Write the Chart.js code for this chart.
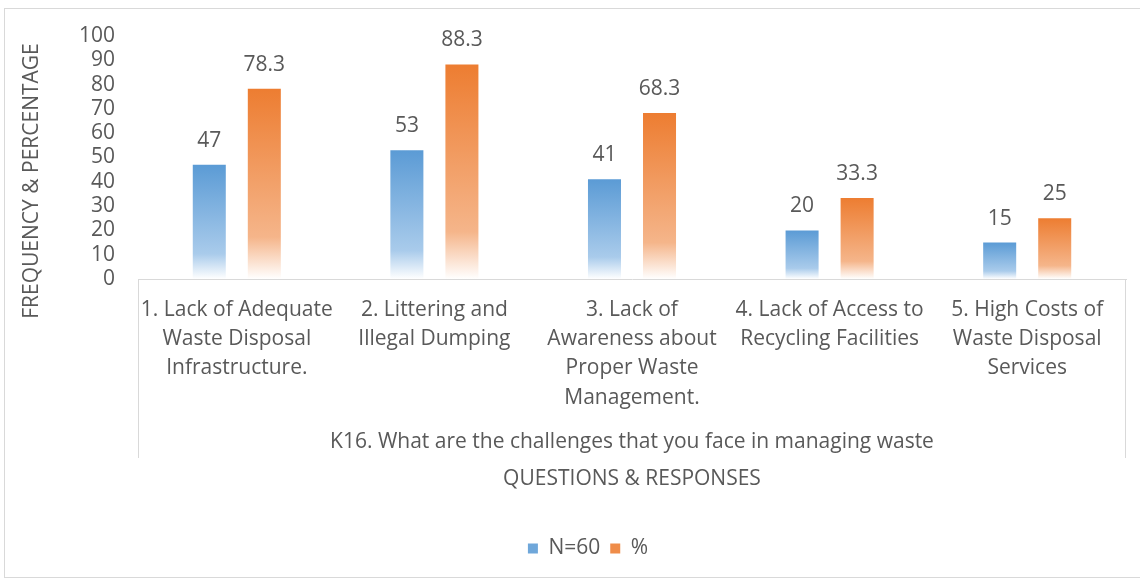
<!DOCTYPE html>
<html lang="en">
<head>
    <meta charset="UTF-8">
    <title>K16 Challenges</title>
    <script src="https://cdn.jsdelivr.net/npm/chart.js"></script>
    <style>
        html, body { margin: 0; padding: 0; background: #fff; }
        .chart-container { width: 1140px; height: 582px; position: relative; }
    </style>
</head>
<body>
    <div class="chart-container">
        <canvas id="wasteChart"></canvas>
    </div>
    <script>
        // data
        const categories = [
            ['1. Lack of Adequate', 'Waste Disposal', 'Infrastructure.'],
            ['2. Littering and', 'Illegal Dumping'],
            ['3. Lack of', 'Awareness about', 'Proper Waste', 'Management.'],
            ['4. Lack of Access to', 'Recycling Facilities'],
            ['5. High Costs of', 'Waste Disposal', 'Services']
        ];
        const frequency = [47, 53, 41, 20, 15];
        const percentage = [78.3, 88.3, 68.3, 33.3, 25];
        const seriesNames = ['N=60', '%'];
        const groupLabel = 'K16. What are the challenges that you face in managing waste';
        const xTitle = 'QUESTIONS & RESPONSES';
        const yTitle = 'FREQUENCY & PERCENTAGE';

        const FONT = '"Open Sans"';
        const TEXT = '#595959';
        const LINE = '#d9d9d9';

        // excel-like gradient, dark at the top fading to white at the base
        function barGradient(dark, light) {
            return function (ctx) {
                const chart = ctx.chart;
                const y = chart.scales.y;
                if (!chart.chartArea || !y || ctx.dataIndex === undefined) return dark;
                const v = ctx.dataset.data[ctx.dataIndex];
                const top = y.getPixelForValue(v);
                const bottom = y.getPixelForValue(0);
                if (!isFinite(top) || !isFinite(bottom) || bottom - top < 1) return dark;
                const g = chart.ctx.createLinearGradient(0, top, 0, bottom);
                g.addColorStop(0, dark);
                g.addColorStop(0.78, light);
                g.addColorStop(1, '#ffffff');
                return g;
            };
        }

        const excelDecor = {
            id: 'excelDecor',
            beforeDraw(chart) {
                const c = chart.ctx;
                c.save();
                c.strokeStyle = LINE;
                c.lineWidth = 1;
                c.strokeRect(4.5, 8.5, 1140, 569);
                c.restore();
            },
            afterDraw(chart) {
                const c = chart.ctx;
                const area = chart.chartArea;
                c.save();
                // category box sides
                c.strokeStyle = LINE;
                c.lineWidth = 1;
                c.beginPath();
                c.moveTo(Math.round(area.left) + 0.5, area.bottom);
                c.lineTo(Math.round(area.left) + 0.5, 458);
                c.moveTo(Math.round(area.right) - 0.5, area.bottom);
                c.lineTo(Math.round(area.right) - 0.5, 458);
                c.stroke();
                c.fillStyle = TEXT;
                c.textAlign = 'center';
                c.textBaseline = 'middle';
                c.font = '21px ' + FONT;
                c.fillText(groupLabel, (area.left + area.right) / 2, 442);
                // y axis title
                c.translate(32, 181);
                c.rotate(-Math.PI / 2);
                c.fillText(yTitle, 0, 0);
                c.restore();
            },
            afterDatasetsDraw(chart) {
                const c = chart.ctx;
                c.save();
                c.fillStyle = TEXT;
                c.font = '21px ' + FONT;
                c.textAlign = 'center';
                c.textBaseline = 'middle';
                chart.data.datasets.forEach((ds, i) => {
                    chart.getDatasetMeta(i).data.forEach((bar, j) => {
                        c.fillText(String(ds.data[j]), bar.x, bar.y - 24);
                    });
                });
                c.restore();
            }
        };

        const ctx = document.getElementById('wasteChart').getContext('2d');
        const chart = new Chart(ctx, {
            type: 'bar',
            data: {
                labels: categories,
                datasets: [
                    {
                        label: seriesNames[0],
                        data: frequency,
                        backgroundColor: barGradient('#5b9bd5', '#a9cbeb'),
                        legendColor: '#6fa7da'
                    },
                    {
                        label: seriesNames[1],
                        data: percentage,
                        backgroundColor: barGradient('#ed7d31', '#f5b58a'),
                        legendColor: '#ef8c49'
                    }
                ]
            },
            options: {
                responsive: true,
                maintainAspectRatio: false,
                animation: false,
                layout: { padding: { left: 50, top: 36, right: 14, bottom: 13 } },
                datasets: {
                    bar: { categoryPercentage: 0.557, barPercentage: 0.6 }
                },
                scales: {
                    x: {
                        grid: { display: false },
                        border: { display: true, color: LINE, width: 1 },
                        ticks: {
                            color: TEXT,
                            font: { family: FONT, size: 21, lineHeight: 1.4 },
                            padding: 8,
                            maxRotation: 0,
                            autoSkip: false
                        },
                        title: {
                            display: true,
                            text: xTitle,
                            color: TEXT,
                            font: { family: FONT, size: 21 },
                            padding: { top: 0, bottom: 36 }
                        },
                        afterFit(scale) { scale.height = 249; }
                    },
                    y: {
                        min: 0,
                        max: 100,
                        grid: { display: false, drawTicks: false },
                        border: { display: false },
                        ticks: {
                            stepSize: 10,
                            autoSkip: false,
                            color: TEXT,
                            font: { family: FONT, size: 21, lineHeight: 1 },
                            padding: 23
                        },
                        afterFit(scale) { scale.width = 88; }
                    }
                },
                plugins: {
                    tooltip: { enabled: false },
                    legend: {
                        position: 'bottom',
                        labels: {
                            color: TEXT,
                            font: { family: FONT, size: 21 },
                            boxWidth: 10,
                            boxHeight: 10,
                            padding: 10,
                            generateLabels(ch) {
                                return ch.data.datasets.map((ds, i) => ({
                                    text: ds.label,
                                    fillStyle: ds.legendColor,
                                    strokeStyle: ds.legendColor,
                                    lineWidth: 0,
                                    fontColor: TEXT,
                                    datasetIndex: i
                                }));
                            }
                        }
                    }
                }
            },
            plugins: [excelDecor]
        });
    </script>
</body>
</html>
